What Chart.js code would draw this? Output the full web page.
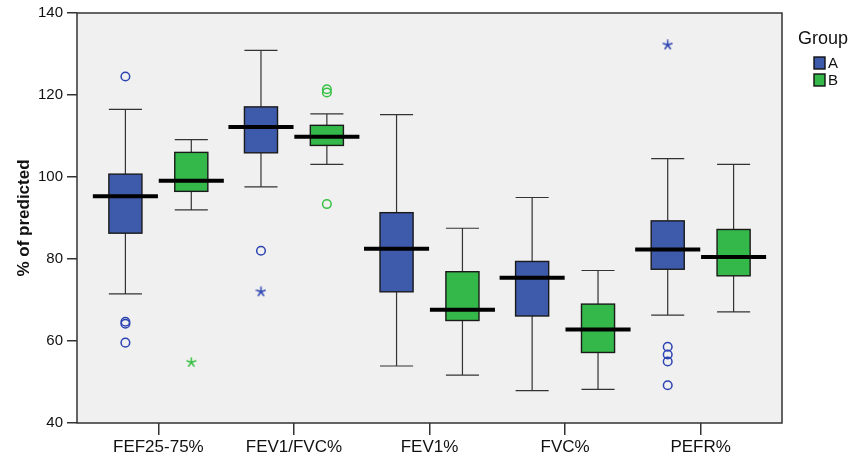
<!DOCTYPE html>
<html>
<head>
<meta charset="utf-8">
<title>% of predicted by group</title>
<script src="https://cdn.jsdelivr.net/npm/chart.js@4.4.1/dist/chart.umd.min.js"></script>
<style>
	html, body { margin:0; padding:0; background:#fff; }
	#wrap { width:859px; height:459px; }
</style>
</head>
<body>
<div id="wrap"><canvas id="boxChart" width="859" height="459"></canvas></div>
<script>
var categories = ["FEF25-75%", "FEV1/FVC%", "FEV1%", "FVC%", "PEFR%"];
var yTicks = [40, 60, 80, 100, 120, 140];

// group A : lower whisker, q1, median, q3, upper whisker
var aLow  = [71.5, 97.6, 53.9, 47.9, 66.3];
var aQ1   = [86.3, 105.9, 72.0, 66.1, 77.5];
var aMed  = [95.3, 112.2, 82.5, 75.4, 82.3];
var aQ3   = [100.7, 117.1, 91.3, 79.4, 89.3];
var aHigh = [116.5, 130.9, 115.2, 95.0, 104.5];

// group B
var bLow  = [92.0, 103.1, 51.7, 48.2, 67.1];
var bQ1   = [96.5, 107.7, 65.0, 57.2, 75.9];
var bMed  = [99.1, 109.8, 67.6, 62.8, 80.5];
var bQ3   = [106.0, 112.6, 76.9, 69.0, 87.2];
var bHigh = [109.1, 115.4, 87.5, 77.2, 103.1];

// outliers (o) and extremes (*), by category index
var aOutCat = [0, 0, 0, 0, 1, 4, 4, 4, 4];
var aOutVal = [124.5, 64.7, 64.2, 59.6, 82.0, 58.6, 56.7, 55.0, 49.2];
var aExtCat = [1, 4];
var aExtVal = [72.0, 132.2];
var bOutCat = [1, 1, 1];
var bOutVal = [121.4, 120.6, 93.4];
var bExtCat = [0];
var bExtVal = [54.8];

var FONT = "'Liberation Sans', Arial, Helvetica, sans-serif";
var BLUE = "#3e5aab", GREEN = "#34b84a";
var BLUE_PT = "#2c43b2", GREEN_PT = "#38c043";
var OFFSET = 0.243;

var groups = [
	{offset: -OFFSET, low: aLow, q1: aQ1, med: aMed, q3: aQ3, high: aHigh, fill: BLUE},
	{offset:  OFFSET, low: bLow, q1: bQ1, med: bMed, q3: bQ3, high: bHigh, fill: GREEN}
];

function pts(cats, vals, off){
	return cats.map(function(c, i){ return {x: c + off, y: vals[i]}; });
}

// small 5 spoke asterisk like the "*" extremes marker
function asterisk(color){
	var c = document.createElement("canvas");
	c.width = 11; c.height = 11;
	var g = c.getContext("2d");
	g.strokeStyle = color;
	g.lineWidth = 1.5;
	g.lineCap = "round";
	g.beginPath();
	for (var k = 0; k < 5; k++) {
		var a = -Math.PI / 2 + k * 2 * Math.PI / 5;
		g.moveTo(5.5, 5.5);
		g.lineTo(5.5 + Math.cos(a) * 4.6, 5.5 + Math.sin(a) * 4.6);
	}
	g.stroke();
	return c;
}

var plotBg = {
	id: "plotBg",
	beforeDraw: function(chart){
		var a = chart.chartArea, ctx = chart.ctx;
		ctx.save();
		ctx.fillStyle = "#f0f0f0";
		ctx.fillRect(a.left, a.top, a.right - a.left, a.bottom - a.top);
		ctx.restore();
	},
	afterDraw: function(chart){
		var a = chart.chartArea, ctx = chart.ctx;
		ctx.save();
		ctx.strokeStyle = "#333";
		ctx.lineWidth = 1.5;
		ctx.strokeRect(a.left, a.top, a.right - a.left, a.bottom - a.top);

		// legend
		ctx.fillStyle = "#111";
		ctx.textBaseline = "alphabetic";
		ctx.font = "18px " + FONT;
		ctx.fillText("Group", 798, 44);
		[["A", BLUE], ["B", GREEN]].forEach(function(l, i){
			var top = 57 + i * 17;
			ctx.fillStyle = l[1];
			ctx.fillRect(814, top, 11, 12);
			ctx.strokeStyle = "#111";
			ctx.lineWidth = 1.4;
			ctx.strokeRect(814, top, 11, 12);
			ctx.fillStyle = "#111";
			ctx.font = "15px " + FONT;
			ctx.fillText(l[0], 828, top + 11);
		});
		ctx.restore();
	}
};

var boxPlot = {
	id: "boxPlot",
	beforeDatasetsDraw: function(chart){
		var ctx = chart.ctx, sx = chart.scales.x, sy = chart.scales.y;
		var unit = sx.getPixelForValue(1) - sx.getPixelForValue(0);
		var hw = unit * 0.122, mw = unit * 0.24;
		ctx.save();
		groups.forEach(function(g){
			categories.forEach(function(c, i){
				var cx = sx.getPixelForValue(i + g.offset);
				var yl = sy.getPixelForValue(g.low[i]), y1 = sy.getPixelForValue(g.q1[i]);
				var ym = sy.getPixelForValue(g.med[i]), y3 = sy.getPixelForValue(g.q3[i]);
				var yh = sy.getPixelForValue(g.high[i]);

				ctx.strokeStyle = "#333";
				ctx.lineWidth = 1.2;
				ctx.beginPath();
				ctx.moveTo(cx, yl); ctx.lineTo(cx, y1);
				ctx.moveTo(cx, y3); ctx.lineTo(cx, yh);
				ctx.moveTo(cx - hw, yl); ctx.lineTo(cx + hw, yl);
				ctx.moveTo(cx - hw, yh); ctx.lineTo(cx + hw, yh);
				ctx.stroke();

				ctx.fillStyle = g.fill;
				ctx.fillRect(cx - hw, y3, hw * 2, y1 - y3);
				ctx.strokeStyle = "#1a1a1a";
				ctx.lineWidth = 1.4;
				ctx.strokeRect(cx - hw, y3, hw * 2, y1 - y3);

				ctx.strokeStyle = "#000";
				ctx.lineWidth = 4;
				ctx.beginPath();
				ctx.moveTo(cx - mw, ym); ctx.lineTo(cx + mw, ym);
				ctx.stroke();
			});
		});
		ctx.restore();
	}
};

var config = {
	type: "scatter",
	data: {
		datasets: [
			{label: "A o", data: pts(aOutCat, aOutVal, -OFFSET), pointStyle: "circle", pointRadius: 4.3,
				borderColor: BLUE_PT, backgroundColor: "rgba(0,0,0,0)", borderWidth: 1.5},
			{label: "A *", data: pts(aExtCat, aExtVal, -OFFSET), pointStyle: asterisk(BLUE_PT), pointRadius: 5},
			{label: "B o", data: pts(bOutCat, bOutVal, OFFSET), pointStyle: "circle", pointRadius: 4.3,
				borderColor: GREEN_PT, backgroundColor: "rgba(0,0,0,0)", borderWidth: 1.5},
			{label: "B *", data: pts(bExtCat, bExtVal, OFFSET), pointStyle: asterisk(GREEN_PT), pointRadius: 5}
		]
	},
	options: {
		responsive: false,
		animation: false,
		devicePixelRatio: 1,
		layout: {padding: {top: 13, right: 77, bottom: 0, left: 0}},
		plugins: {
			legend: {display: false},
			tooltip: {enabled: false}
		},
		scales: {
			x: {
				type: "linear",
				min: -0.6,
				max: 4.6,
				afterBuildTicks: function(s){ s.ticks = categories.map(function(c, i){ return {value: i}; }); },
				afterFit: function(s){ s.height = 36; },
				border: {display: false},
				grid: {drawOnChartArea: false, drawTicks: true, tickLength: 12, color: "#333", lineWidth: 1.5},
				ticks: {
					autoSkip: false, maxRotation: 0, padding: 2, color: "#111",
					font: {family: FONT, size: 17},
					callback: function(v){ return categories[Math.round(v)]; }
				}
			},
			y: {
				min: 40,
				max: 140,
				afterBuildTicks: function(s){ s.ticks = yTicks.map(function(v){ return {value: v}; }); },
				afterFit: function(s){ s.width = 77; },
				border: {display: false},
				grid: {drawOnChartArea: false, drawTicks: true, tickLength: 10, color: "#333", lineWidth: 1.5},
				ticks: {padding: 4, color: "#111", font: {family: FONT, size: 15}},
				title: {
					display: true, text: "% of predicted", color: "#111",
					font: {family: FONT, size: 17, weight: "bold"},
					padding: {top: 14, bottom: 0}
				}
			}
		}
	},
	plugins: [plotBg, boxPlot]
};

var ctx = document.getElementById("boxChart").getContext("2d");
var boxChart = new Chart(ctx, config);
</script>
</body>
</html>
